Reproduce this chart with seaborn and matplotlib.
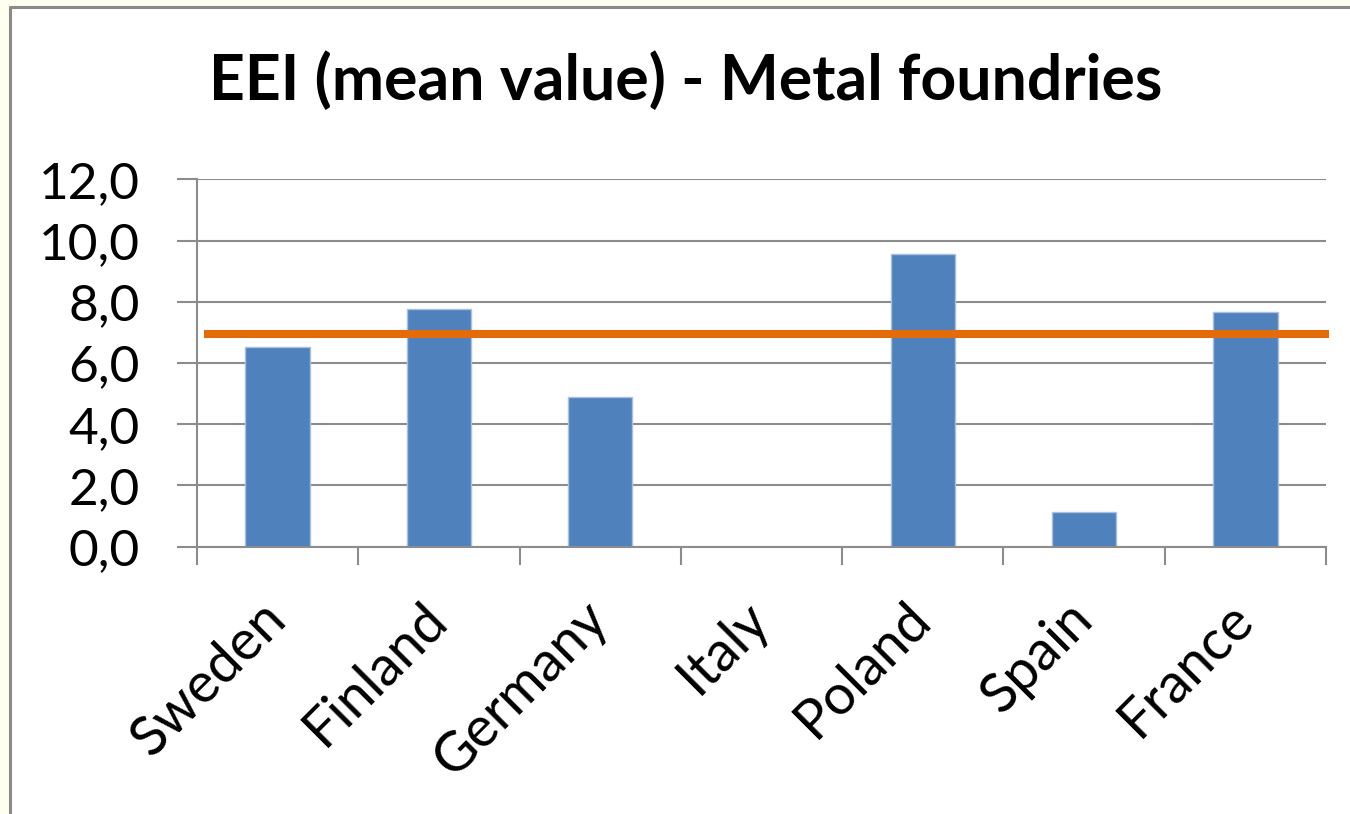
import matplotlib
matplotlib.use("Agg")
import matplotlib.pyplot as plt
import seaborn as sns
import numpy as np
from matplotlib.patches import Rectangle
from matplotlib.lines import Line2D

countries = ["Sweden", "Finland", "Germany", "Italy", "Poland", "Spain", "France"]
eei = [6.52, 7.77, 4.89, 0.0, 9.56, 1.14, 7.66]
mean_line = 6.94
y_ticks = [0, 2, 4, 6, 8, 10, 12]
y_tick_labels = ["0,0", "2,0", "4,0", "6,0", "8,0", "10,0", "12,0"]
title = "EEI (mean value) - Metal foundries"

sns.set_theme(style="white")
plt.rcParams['font.family'] = ['Lato', 'DejaVu Sans']

W, H = 1350, 814
fig = plt.figure(figsize=(13.5, 8.14), dpi=100, facecolor='#FFFFF0')
fig.add_artist(Rectangle((9.5 / W, 0), 1.0, (H - 6.5) / H,
                         transform=fig.transFigure, facecolor='white',
                         edgecolor='none', zorder=0))
fig.add_artist(Line2D([9.5 / W, 9.5 / W], [0, (H - 6.5) / H], transform=fig.transFigure,
                      color='#8A8A8A', lw=2.2, zorder=0.5))
fig.add_artist(Line2D([9.5 / W, 1.0], [(H - 6.5) / H, (H - 6.5) / H], transform=fig.transFigure,
                      color='#8A8A8A', lw=2.2, zorder=0.5))

ax = fig.add_axes([197 / W, (H - 546.7) / H, (1326 - 197) / W, (546.7 - 179.3) / H])
ax.set_facecolor('white')

grid_c = '#8C8C8C'
sns.barplot(x=countries, y=eei, color='#4F81BD', saturation=1, width=0.4,
            edgecolor='#A9C0E0', linewidth=1.0, ax=ax, zorder=2)
ax.hlines(mean_line, -0.455, 6.52, color='#E36C0A', lw=5.8, clip_on=False, zorder=3)

ax.set_xlim(-0.5, 6.5)
ax.set_ylim(0, 12)
ax.set_yticks(y_ticks)
ax.set_yticklabels(y_tick_labels)
ax.yaxis.grid(True, color=grid_c, lw=1.5)
ax.set_axisbelow(True)
ax.set_xlabel("")
ax.set_ylabel("")

for s in ['top', 'right']:
    ax.spines[s].set_visible(False)
for s in ['left', 'bottom']:
    ax.spines[s].set_color(grid_c)
    ax.spines[s].set_linewidth(1.5)

ax.set_xticks(np.arange(-0.5, 7, 1), minor=True)
ax.tick_params(axis='x', which='minor', bottom=True, length=13, width=1.5, color=grid_c)
ax.tick_params(axis='x', which='major', bottom=True, length=0, pad=46, labelsize=40, labelcolor='black')
ax.tick_params(axis='y', left=True, length=14.4, width=1.5, color=grid_c, pad=27,
               labelsize=37, labelcolor='black')
for lab in ax.get_xticklabels():
    lab.set_rotation(45)
    lab.set_ha('right')
    lab.set_va('center')
    lab.set_rotation_mode('anchor')

fig.text(686 / W, (H - 81) / H, title, ha='center', va='center',
         fontsize=45, fontweight='bold', color='black')

fig.savefig("out.png", dpi=100, facecolor=fig.get_facecolor())
